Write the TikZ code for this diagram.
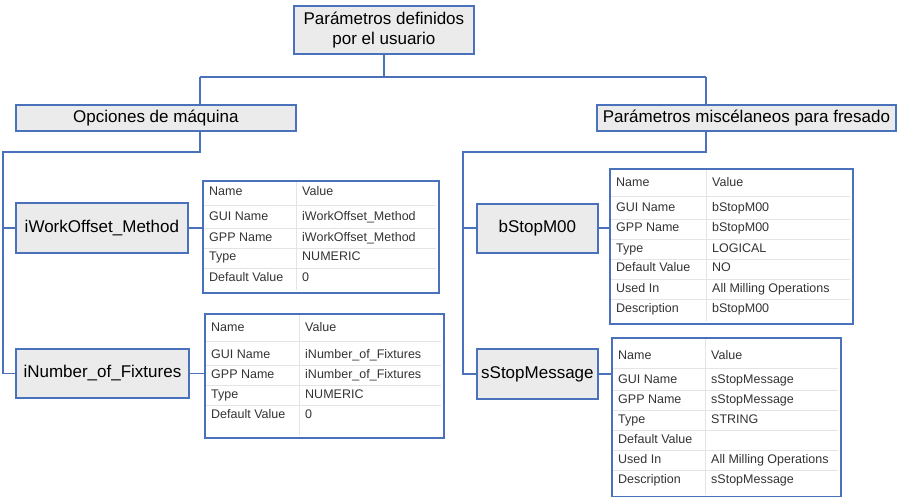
\documentclass[tikz,border=0pt]{standalone}
\usepackage{fontspec}
\setmainfont{Liberation Sans}
\definecolor{edge}{HTML}{4A72BC}
\definecolor{boxfill}{HTML}{EBEBEB}
\definecolor{celltext}{HTML}{333333}
\definecolor{gridline}{HTML}{E4E4E4}

\tikzset{
  conn/.style={draw=edge, line width=1.8pt},
  catbox/.style={draw=edge, line width=1.8pt, fill=boxfill, anchor=north west,
    inner sep=0pt, align=center, font=\fontsize{17}{20}\selectfont},
  tbl/.style={draw=edge, line width=1.8pt, fill=white, anchor=north west, inner sep=0pt},
  cell/.style={anchor=west, inner sep=0pt, text=celltext, text height=9pt, text depth=3pt,
    font=\fontsize{12.5}{14}\selectfont},
  gridrule/.style={draw=gridline, line width=0.8pt},
}

% #1 name, #2 left, #3 top, #4 right, #5 bottom, #6 value column x,
% #7 header row y, #8 first data row y, #9 key/value rows
\newcommand{\proptable}[9]{%
  \node[tbl, minimum width={#4-#2}, minimum height={#5-#3}] (#1) at (#2,#3) {};
  \draw[gridrule] (#6-6,#3+2) -- (#6-6,#5-2);
  \draw[gridrule] (#2+2,{(#7+#8)/2}) -- (#4-2,{(#7+#8)/2});
  \node[cell] (#1-hk) at (#2+7,#7) {Name};
  \node[cell] (#1-hv) at (#6,#7) {Value};
  \foreach \pk/\pv [count=\i from 0] in {#9} {
    \ifnum\i>0
      \draw[gridrule] (#2+2,{#8+20*\i-10}) -- (#4-2,{#8+20*\i-10});
    \fi
    \node[cell] (#1-k\i) at (#2+7,{#8+20*\i}) {\pk};
    \node[cell] (#1-v\i) at (#6,{#8+20*\i}) {\pv};
  }
}

\begin{document}
\begin{tikzpicture}[x=1pt,y=-1pt]
\useasboundingbox (0,0) rectangle (897,497);

% category boxes
\node[catbox, minimum width=180, minimum height=48] (root) at (293,5)
  {Parámetros definidos\\por el usuario};
\node[catbox, minimum width=280, minimum height=26] (opc) at (15,104) {Opciones de máquina};
\node[catbox, minimum width=299, minimum height=26] (misc) at (596,104)
  {Parámetros miscélaneos para fresado};
\node[catbox, minimum width=172, minimum height=50] (work) at (15,202) {iWorkOffset\_Method};
\node[catbox, minimum width=173, minimum height=49] (fix) at (15,348) {iNumber\_of\_Fixtures};
\node[catbox, minimum width=121, minimum height=49] (stop) at (476,203) {bStopM00};
\node[catbox, minimum width=121, minimum height=50] (msg) at (476,348) {sStopMessage};

% property tables
\proptable{t1}{202}{180}{438}{292}{302}{193}{218}{%
  GUI Name/iWorkOffset\_Method, GPP Name/iWorkOffset\_Method,
  Type/NUMERIC, Default Value/0}
\proptable{t2}{204}{313}{443}{437}{305}{328}{355}{%
  GUI Name/iNumber\_of\_Fixtures, GPP Name/iNumber\_of\_Fixtures,
  Type/NUMERIC, Default Value/0}
\proptable{t3}{609}{168}{852}{323}{712}{184}{209}{%
  GUI Name/bStopM00, GPP Name/bStopM00, Type/LOGICAL, Default Value/NO,
  Used In/All Milling Operations, Description/bStopM00}
\proptable{t4}{611}{337}{840}{496}{711}{356}{380}{%
  GUI Name/sStopMessage, GPP Name/sStopMessage, Type/STRING, Default Value/,
  Used In/All Milling Operations, Description/sStopMessage}

% junction points
\coordinate (jl) at (200,77);
\coordinate (jr) at (706,77);
\coordinate (lj) at (200,152);
\coordinate (lc) at (3,152);
\coordinate (rj) at (706,152);
\coordinate (rc) at (463,152);

% tree connectors
\draw[conn] (root.south) -- (root.south |- jl);
\draw[conn] (jl) -- (jr);
\draw[conn] (jl) -- (jl |- opc.north);
\draw[conn] (jr) -- (jr |- misc.north);
\draw[conn, line join=miter] (opc.south -| lj) -- (lj) -- (lc) -- (lc |- fix.west) -- (fix.west);
\draw[conn] (lc |- work.west) -- (work.west);
\draw[conn, line join=miter] (misc.south -| rj) -- (rj) -- (rc) -- (rc |- msg.west) -- (msg.west);
\draw[conn] (rc |- stop.west) -- (stop.west);

% boxes to their tables
\draw[conn] (work.east) -- (work.east -| t1.west);
\draw[conn] (fix.east) -- (fix.east -| t2.west);
\draw[conn] (stop.east) -- (stop.east -| t3.west);
\draw[conn] (msg.east) -- (msg.east -| t4.west);
\end{tikzpicture}
\end{document}
